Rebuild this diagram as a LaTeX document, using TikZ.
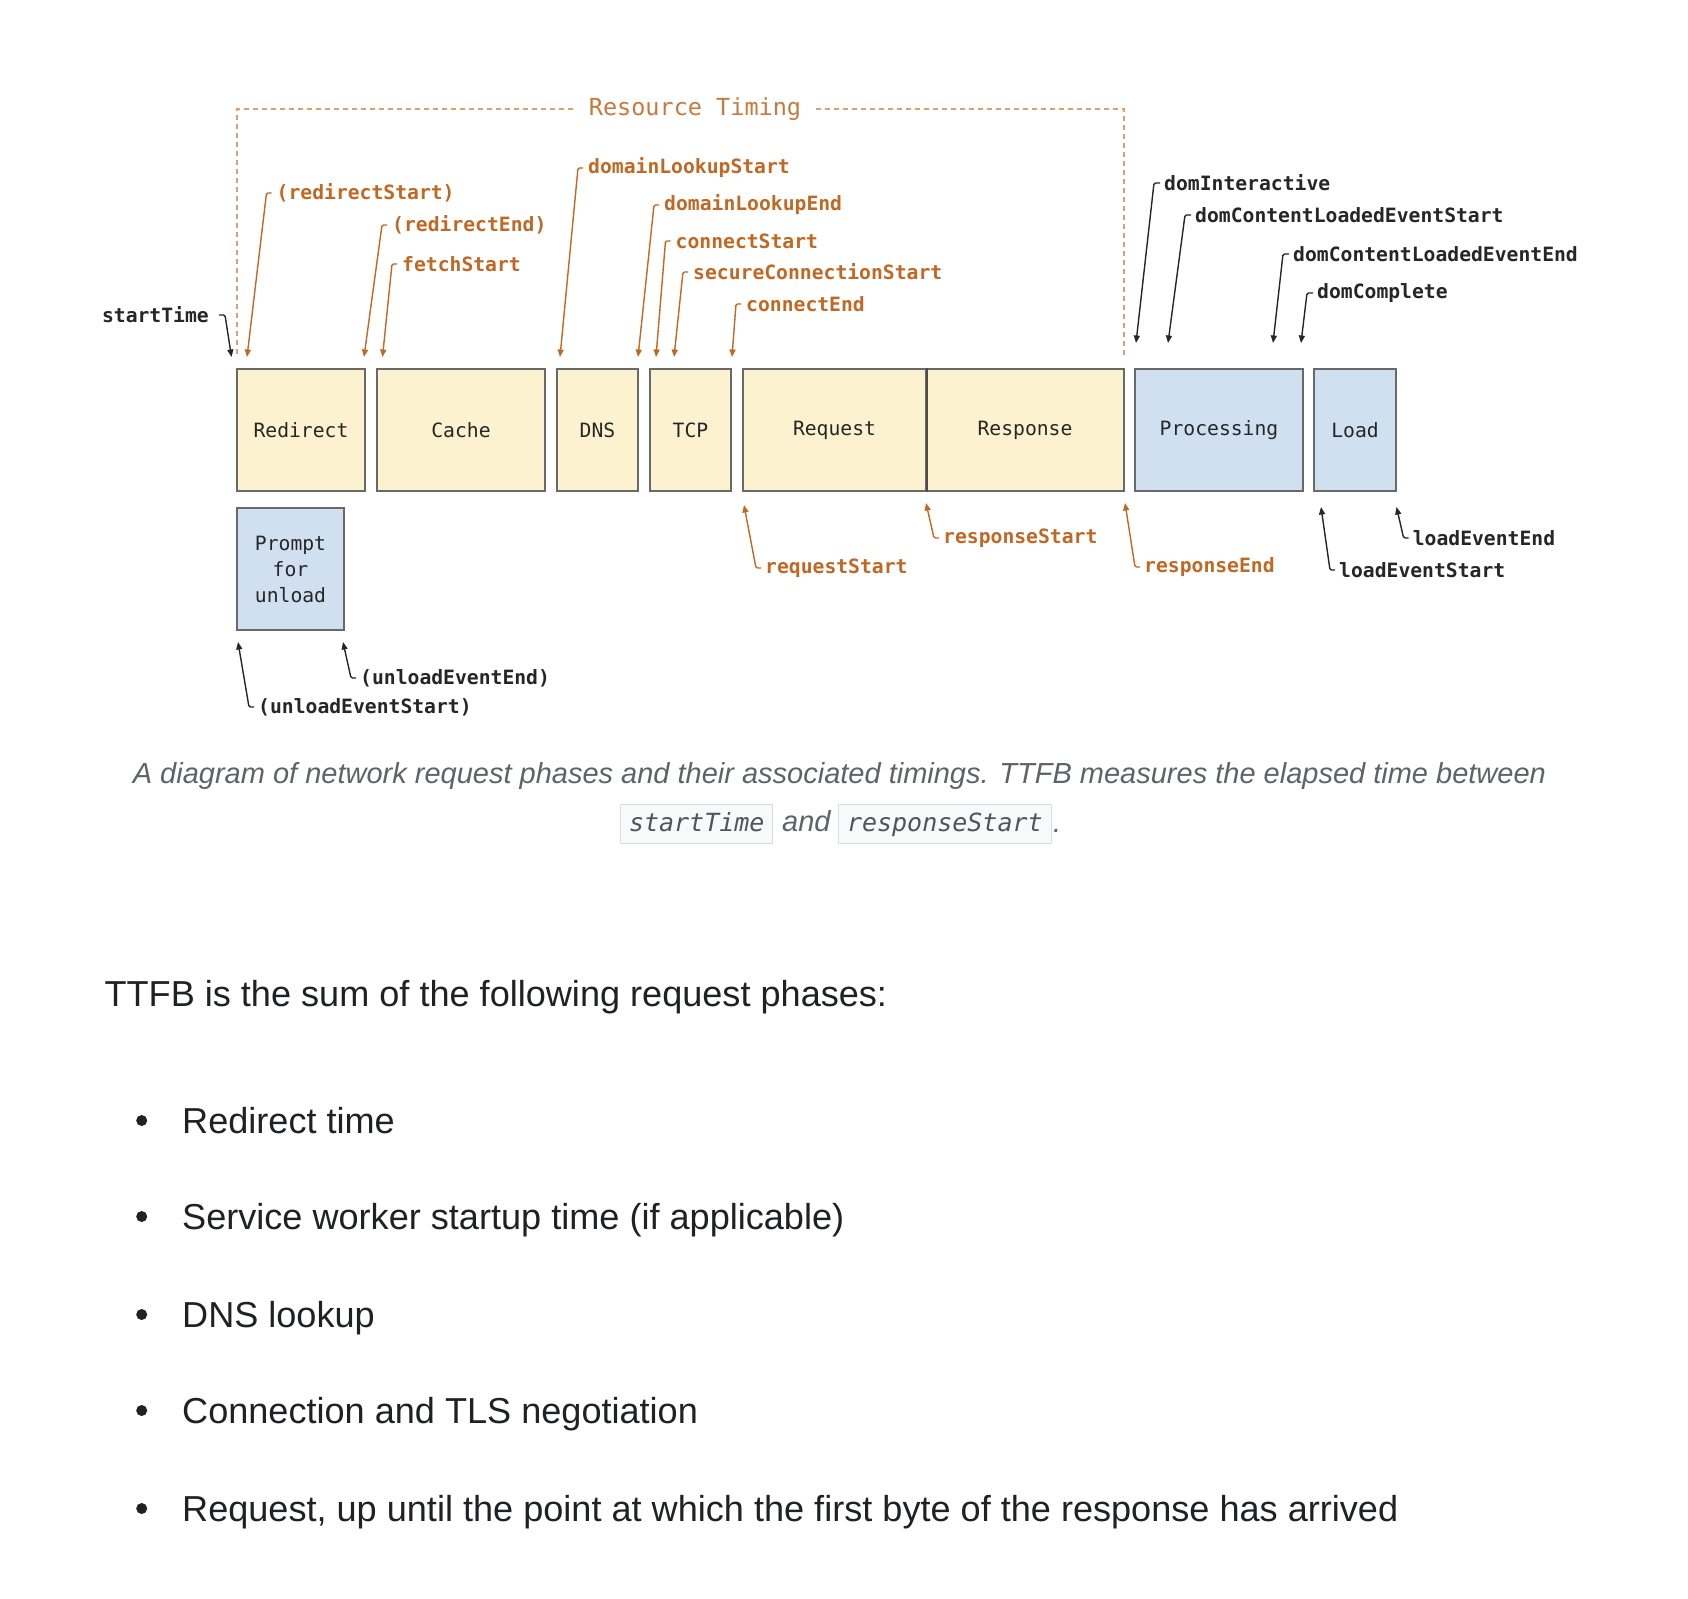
\documentclass[tikz,border=0pt]{standalone}
\usepackage{fontspec}
\setmainfont{Liberation Sans}
\newfontfamily\monofam{DejaVu Sans Mono}
\usetikzlibrary{arrows.meta}
\definecolor{lblorange}{RGB}{192,104,36}
\definecolor{rtorange}{RGB}{220,160,112}
\definecolor{rttext}{RGB}{200,122,62}
\definecolor{lblblack}{RGB}{38,38,38}
\definecolor{yfill}{RGB}{252,242,208}
\definecolor{bfill}{RGB}{208,224,241}
\definecolor{boxline}{RGB}{105,105,105}
\definecolor{captext}{RGB}{95,99,104}
\definecolor{codefill}{RGB}{248,249,250}
\definecolor{codeline}{RGB}{218,220,224}
\definecolor{bodytext}{RGB}{32,33,36}
\newcommand\lbfont{\monofam\bfseries\fontsize{19.7}{24}\selectfont}
\newcommand\phfont{\monofam\fontsize{19.7}{26}\selectfont}
\newcommand\rtfont{\monofam\fontsize{23.5}{28}\selectfont}
\newcommand\capfont{\itshape\fontsize{29}{35}\selectfont}
\newcommand\cdfont{\monofam\itshape\fontsize{25}{30}\selectfont}
\newcommand\bdfont{\fontsize{36.1}{42}\selectfont}
\tikzset{
  phase/.style={draw=boxline, line width=2pt, minimum height=122pt, inner sep=0pt, font=\phfont, text=black!85},
  yphase/.style={phase, fill=yfill},
  bphase/.style={phase, fill=bfill},
  olbl/.style={font=\lbfont, text=lblorange, inner sep=0pt, anchor=west},
  klbl/.style={font=\lbfont, text=lblblack, inner sep=0pt, anchor=west},
  oarr/.style={draw=lblorange, line width=1.4pt, rounded corners=1.5pt, -{Triangle[length=7.5pt,width=6pt]}},
  karr/.style={draw=lblblack, line width=1.4pt, rounded corners=1.5pt, -{Triangle[length=7.5pt,width=6pt]}},
  rtline/.style={draw=rtorange, line width=1.5pt, dash pattern=on 5pt off 4pt},
  codebox/.style={draw=codeline, fill=codefill, line width=1pt, font=\cdfont, text=captext!85!black,
    inner xsep=8.5pt, inner ysep=8pt, text height=19pt, text depth=4pt, anchor=north west},
  captxt/.style={font=\capfont, text=captext, inner sep=0pt},
  bodytxt/.style={font=\bdfont, text=bodytext, inner sep=0pt, anchor=base west},
}
\begin{document}
\begin{tikzpicture}[x=1pt,y=-1pt]
\useasboundingbox[fill=white] (0,0) rectangle (1688,1598);

% Resource Timing bracket
\node[font=\rtfont, text=rttext, inner sep=0pt] (rt) at (695,109) {Resource Timing};
\coordinate (rtL) at (237,109);
\coordinate (rtLb) at (237,358);
\coordinate (rtR) at (1124,109);
\coordinate (rtRb) at (1124,358);
\draw[rtline] ([xshift=-16pt]rt.west) -- (rtL) -- (rtLb);
\draw[rtline] ([xshift=15pt]rt.east) -- (rtR) -- (rtRb);

% phases
\node[yphase, minimum width=128pt] (redirect) at (301,430) {Redirect};
\node[yphase, minimum width=168pt] (cache) at (461,430) {Cache};
\node[yphase, minimum width=81pt] (dns) at (597.5,430) {DNS};
\node[yphase, minimum width=81pt] (tcp) at (690.5,430) {TCP};
\node[yphase, minimum width=183pt] (request) at (834.5,430) {Request};
\node[yphase, minimum width=198pt] (response) at (1025,430) {Response};
\draw[line width=2.4pt, black!70] (request.north east) -- (request.south east);
\node[bphase, minimum width=168pt] (processing) at (1219,430) {Processing};
\node[bphase, minimum width=82pt] (load) at (1355,430) {Load};
\node[bphase, minimum width=107pt, align=center] (prompt) at (290.5,569) {Prompt\\for\\unload};

% top orange labels
\node[olbl] (l-rs) at (276.5,193) {(redirectStart)};
\node[olbl] (l-re) at (392,225) {(redirectEnd)};
\node[olbl] (l-fs) at (402,264) {fetchStart};
\node[olbl] (l-dls) at (588,168) {domainLookupStart};
\node[olbl] (l-dle) at (664,205) {domainLookupEnd};
\node[olbl] (l-cs) at (675.5,241) {connectStart};
\node[olbl] (l-scs) at (693,272) {secureConnectionStart};
\node[olbl] (l-ce) at (746,304) {connectEnd};
\coordinate (t-rs) at (247,357);
\coordinate (t-re) at (364,357);
\coordinate (t-fs) at (382.5,357);
\coordinate (t-dls) at (560,357);
\coordinate (t-dle) at (638,357);
\coordinate (t-cs) at (656,357);
\coordinate (t-scs) at (674,357);
\coordinate (t-ce) at (732,357);
\foreach \n in {rs,re,fs,dls,dle,cs,scs,ce}{
  \draw[oarr] ([xshift=-5pt]l-\n.west) -- ++(-5,0) -- (t-\n);
}

% startTime
\node[klbl, anchor=east] (l-st) at (209,315) {startTime};
\coordinate (t-st) at (231.5,357);
\draw[karr] ([xshift=10pt]l-st.east) -- ++(6,0) -- (t-st);

% top right black labels
\node[klbl] (l-di) at (1164,183) {domInteractive};
\node[klbl] (l-dcs) at (1195,215) {domContentLoadedEventStart};
\node[klbl] (l-dce) at (1293,254) {domContentLoadedEventEnd};
\node[klbl] (l-dc) at (1317,293) {domComplete};
\coordinate (t-di) at (1136,343);
\coordinate (t-dcs) at (1168,343);
\coordinate (t-dce) at (1273,343);
\coordinate (t-dc) at (1301,343);
\foreach \n in {di,dcs,dce,dc}{
  \draw[karr] ([xshift=-4pt]l-\n.west) -- ++(-6,0) -- (t-\n);
}

% bottom orange labels
\node[olbl] (l-rqs) at (765,568) {requestStart};
\node[olbl] (l-rps) at (943,538) {responseStart};
\node[olbl] (l-rpe) at (1144,567) {responseEnd};
\coordinate (t-rqs) at (744,505);
\coordinate (t-rps) at (926,503);
\coordinate (t-rpe) at (1125,503);
\foreach \n in {rqs,rps,rpe}{
  \draw[oarr] ([xshift=-4pt]l-\n.west) -- ++(-5,0) -- (t-\n);
}

% bottom black labels
\node[klbl] (l-les) at (1339,570) {loadEventStart};
\node[klbl] (l-lee) at (1412.6,538) {loadEventEnd};
\node[klbl] (l-ues) at (258,707) {(unloadEventStart)};
\node[klbl] (l-uee) at (360,678) {(unloadEventEnd)};
\coordinate (t-les) at (1321,507);
\coordinate (t-lee) at (1396.5,507);
\coordinate (t-ues) at (238,642);
\coordinate (t-uee) at (343,642);
\foreach \n in {les,lee,ues,uee}{
  \draw[karr] ([xshift=-4pt]l-\n.west) -- ++(-5,0) -- (t-\n);
}

% caption
\node[captxt, anchor=base] (cap1) at (839.4,783) {A diagram of network request phases and their associated timings. TTFB measures the elapsed time between};
\node[codebox] (code1) at (620,804) {startTime};
\node[captxt, anchor=base west] (and) at (782,831) {and};
\node[codebox] (code2) at (838,804) {responseStart};
\node[captxt, anchor=base west] (dot) at (1053,832) {.};

% body text
\node[bodytxt] (ttfb) at (104.4,1006.7) {TTFB is the sum of the following request phases:};
\node[bodytxt] (b1) at (182,1133) {Redirect time};
\node[bodytxt] (b2) at (182,1229) {Service worker startup time (if applicable)};
\node[bodytxt] (b3) at (182,1327) {DNS lookup};
\node[bodytxt] (b4) at (182,1423) {Connection and TLS negotiation};
\node[bodytxt] (b5) at (182,1521) {Request, up until the point at which the first byte of the response has arrived};
\foreach \yy in {1133,1229,1327,1423,1521}{
  \fill[bodytext] (141.7,\yy-12.5) circle (5.5pt);
}
\end{tikzpicture}
\end{document}
